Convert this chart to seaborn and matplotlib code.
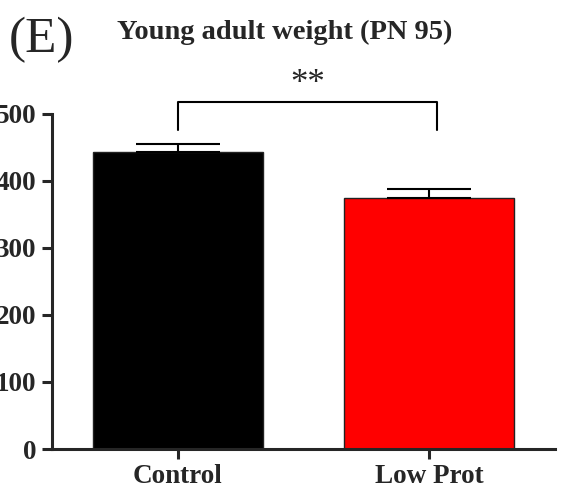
import matplotlib
matplotlib.use("Agg")
import matplotlib.pyplot as plt
import seaborn as sns
import pandas as pd

# Body weight at PN 95 (g), mean and SEM per diet group
groups = ["Control", "Low Prot"]
weights = [443, 374]
sems = [12, 14]
colors = ["#000000", "#ff0000"]
yticks = [0, 100, 200, 300, 400, 500]
signif = "**"

sns.set_style("ticks")
plt.rcParams["font.family"] = ["Liberation Serif", "DejaVu Serif"]

df = pd.DataFrame({"group": groups, "weight": weights})

fig = plt.figure(figsize=(5.65, 4.91), dpi=100)
ax = fig.add_axes([0.092, 0.0855, 0.89, 0.6825])

sns.barplot(data=df, x="group", y="weight", hue="group", palette=colors,
            saturation=1, width=0.675, edgecolor="#222222", linewidth=1.0,
            errorbar=None, legend=False, ax=ax)

# upper-only SEM bars
ax.errorbar(range(len(groups)), weights, yerr=[[0] * len(sems), sems],
            fmt="none", ecolor="black", elinewidth=1.5, capsize=30,
            capthick=1.5, zorder=3)

ax.set_xlim(-0.5, 1.5)
ax.set_ylim(0, 500)
ax.set_yticks(yticks)
ax.set_xlabel("")
ax.set_ylabel("")
for s in ["top", "right"]:
    ax.spines[s].set_visible(False)
for s in ["left", "bottom"]:
    ax.spines[s].set_linewidth(2.2)
ax.tick_params(axis="both", width=2.2, length=7, direction="out",
               labelsize=19.5, pad=4)
for lab in ax.get_xticklabels() + ax.get_yticklabels():
    lab.set_fontweight("bold")

# significance bracket
yb, yl = 518, 476
ax.plot([0, 0, 1.03, 1.03], [yl, yb, yb, yl], color="black", lw=1.5,
        clip_on=False)
ax.text(0.516, 520, signif, ha="center", va="bottom", fontsize=25,
        clip_on=False)

fig.text(0.073, 0.893, "(E)", ha="center", va="baseline", fontsize=37)
fig.text(0.503, 0.92, "Young adult weight (PN 95)", ha="center",
         va="baseline", fontsize=20.5, fontweight="bold")

fig.savefig("out.png", dpi=100)
